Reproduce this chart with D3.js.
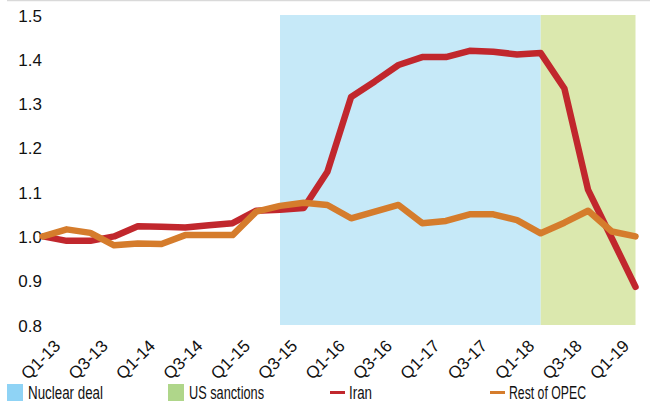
<!DOCTYPE html>
<html><head><meta charset="utf-8">
<script src="https://cdn.jsdelivr.net/npm/d3@7"></script>
<style>body{margin:0;background:#fff}svg{display:block}</style>
</head><body>
<svg id="c" width="655" height="403"></svg>
<script>
const quarters = ["Q1-13","Q2-13","Q3-13","Q4-13","Q1-14","Q2-14","Q3-14","Q4-14","Q1-15","Q2-15","Q3-15","Q4-15","Q1-16","Q2-16","Q3-16","Q4-16","Q1-17","Q2-17","Q3-17","Q4-17","Q1-18","Q2-18","Q3-18","Q4-18","Q1-19","Q2-19"];
const iran = [1.0,0.99,0.99,1.0,1.023,1.022,1.02,1.025,1.03,1.058,1.06,1.064,1.146,1.315,1.35,1.387,1.405,1.405,1.419,1.417,1.411,1.414,1.334,1.105,0.996,0.886];
const restOfOpec = [1.0,1.016,1.008,0.98,0.984,0.983,1.003,1.003,1.003,1.056,1.069,1.076,1.071,1.041,1.056,1.071,1.03,1.035,1.05,1.05,1.037,1.007,1.031,1.058,1.011,1.0];
const yTicks = [0.8,0.9,1.0,1.1,1.2,1.3,1.4,1.5];
const xTickLabels = ["Q1-13","Q3-13","Q1-14","Q3-14","Q1-15","Q3-15","Q1-16","Q3-16","Q1-17","Q3-17","Q1-18","Q3-18","Q1-19"];
const periods = [
  {name:"Nuclear deal", from:"Q3-15", to:"Q2-18", fill:"#c6e9f8", swatch:"#8fd3f5"},
  {name:"US sanctions", from:"Q2-18", to:"Q2-19", fill:"#dbe8ae", swatch:"#afd68a"}
];
const series = [
  {name:"Iran", values:iran, color:"#c1272d"},
  {name:"Rest of OPEC", values:restOfOpec, color:"#d57c2c"}
];

const svg = d3.select("#c");
const x = d3.scalePoint().domain(quarters).range([43, 635.5]);
const y = d3.scaleLinear().domain([0.8, 1.5]).range([325, 15]);

svg.append("line").attr("x1",7).attr("x2",650).attr("y1",0.5).attr("y2",0.5)
  .attr("stroke","#d9d9d9").attr("stroke-width",1.5);

svg.append("g").selectAll("rect").data(periods).join("rect")
  .attr("x", d => x(d.from)).attr("width", d => x(d.to) - x(d.from))
  .attr("y", y(1.5)).attr("height", y(0.8) - y(1.5))
  .attr("fill", d => d.fill);

const font = "Liberation Sans, Arial, Helvetica, sans-serif";
const yAxis = d3.axisLeft(y).tickValues(yTicks).tickFormat(d3.format(".1f")).tickSize(0).tickPadding(0);
const gy = svg.append("g").attr("transform","translate(42,0)").call(yAxis)
  .attr("font-family",font).attr("font-size",17);
gy.select(".domain").remove();
gy.selectAll("text").attr("fill","#111").attr("dy","0.36em");

const xAxis = d3.axisBottom(x).tickValues(xTickLabels).tickSize(0).tickPadding(0);
const gx = svg.append("g").attr("transform","translate(0,325)").call(xAxis)
  .attr("font-family",font).attr("font-size",17);
gx.select(".domain").remove();
gx.selectAll("text").attr("fill","#111")
  .attr("text-anchor","end").attr("y",0).attr("dy",0)
  .attr("transform","translate(18,22) rotate(-45)");

const line = d3.line().x((d,i) => x(quarters[i])).y(d => y(d));
svg.append("g").selectAll("path").data(series).join("path")
  .attr("d", d => line(d.values)).attr("fill","none")
  .attr("stroke", d => d.color).attr("stroke-width",6.5)
  .attr("stroke-linejoin","round").attr("stroke-linecap","round");

const lfont = "Liberation Sans Narrow, Liberation Sans, Arial, sans-serif";
const legendItems = [
  {label:periods[0].name, type:"box", color:periods[0].swatch, x:7, w:75},
  {label:periods[1].name, type:"box", color:periods[1].swatch, x:168, w:75},
  {label:series[0].name, type:"line", color:series[0].color, x:330, w:23},
  {label:series[1].name, type:"line", color:series[1].color, x:490, w:77}
];
const lg = svg.append("g");
legendItems.forEach(it => {
  if (it.type === "box") {
    lg.append("rect").attr("x",it.x).attr("y",384).attr("width",16).attr("height",17).attr("fill",it.color);
    lg.append("text").attr("x",it.x+21).attr("y",398.5).text(it.label)
      .attr("font-family",lfont).attr("font-size",17.5).attr("fill","#111")
      .attr("textLength",it.w).attr("lengthAdjust","spacingAndGlyphs");
  } else {
    lg.append("line").attr("x1",it.x).attr("x2",it.x+15).attr("y1",392.5).attr("y2",392.5)
      .attr("stroke",it.color).attr("stroke-width",3);
    lg.append("text").attr("x",it.x+19).attr("y",398.5).text(it.label)
      .attr("font-family",lfont).attr("font-size",17.5).attr("fill","#111")
      .attr("textLength",it.w).attr("lengthAdjust","spacingAndGlyphs");
  }
});
</script>
</body></html>
